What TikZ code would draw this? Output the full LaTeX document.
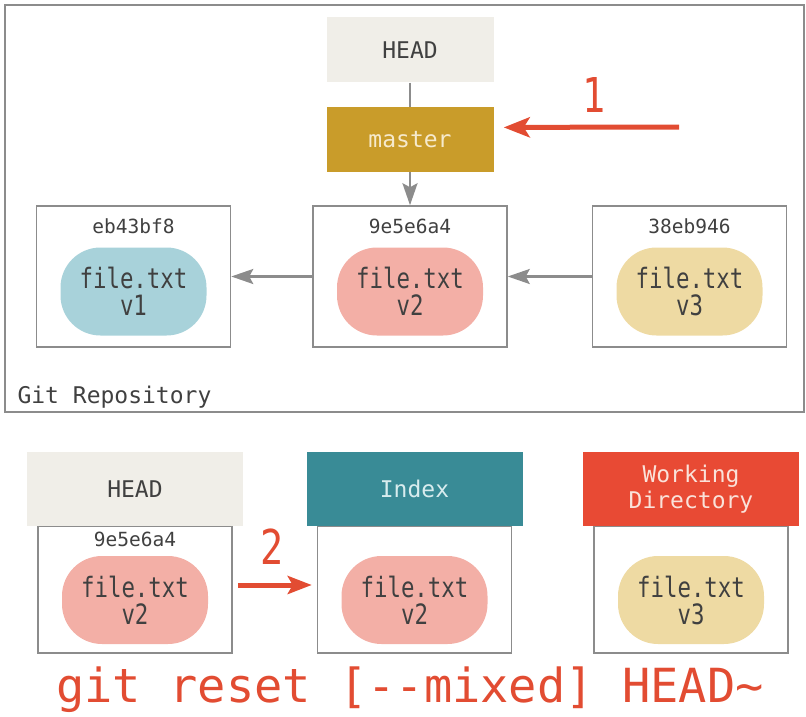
\documentclass[tikz,border=0pt]{standalone}
\usepackage{fontspec}
\setmonofont{DejaVu Sans Mono}
\newfontfamily\blobfont[FakeStretch=0.8]{DejaVu Sans Mono}
\usetikzlibrary{arrows.meta, positioning}
\definecolor{HeadGray}{RGB}{240,238,232}
\definecolor{MasterGold}{RGB}{201,156,42}
\definecolor{MasterText}{RGB}{246,234,205}
\definecolor{BlobBlue}{RGB}{168,210,218}
\definecolor{BlobPink}{RGB}{243,175,166}
\definecolor{BlobSand}{RGB}{238,218,163}
\definecolor{IndexTeal}{RGB}{57,139,150}
\definecolor{IndexText}{RGB}{216,236,238}
\definecolor{WorkRed}{RGB}{232,74,52}
\definecolor{WorkText}{RGB}{250,226,218}
\definecolor{GitRed}{RGB}{226,76,50}
\definecolor{LineGray}{RGB}{140,140,140}
\definecolor{TextGray}{RGB}{64,64,64}

\begin{document}
\begin{tikzpicture}[x=1pt, y=-1pt, font=\ttfamily\fontsize{23}{26}\selectfont, text=TextGray,
  ref/.style={minimum width=167pt, minimum height=65pt, inner sep=0pt, align=center},
  hdr/.style={minimum width=216pt, minimum height=74pt, inner sep=0pt, align=center},
  cbox/.style={draw=LineGray, line width=1.5pt, minimum width=194pt, inner sep=0pt},
  blob/.style={fill=#1, rounded corners=40pt, minimum width=146pt, minimum height=88pt, align=center, inner sep=0pt,
    font=\blobfont\fontsize{28}{27}\selectfont},
  hash/.style={font=\ttfamily\fontsize{19.5}{22}\selectfont},
  num/.style={font=\blobfont\fontsize{48}{50}\selectfont, text=GitRed},
  ar/.style={-{Stealth[length=22pt, width=15pt, inset=4pt]}, line width=2.5pt, LineGray},
  redar/.style={-{Stealth[length=26pt, width=20pt, inset=6pt]}, line width=5pt, GitRed}]
\useasboundingbox (0,0) rectangle (806,717);
% repository
\draw[LineGray, line width=1.5pt] (5,5) rectangle (804,412);
\node[anchor=west] (repo) at (14,397) {Git Repository};
\node[ref, fill=HeadGray] (head) at (410,50) {HEAD};
\node[ref, fill=MasterGold, text=MasterText, below=24pt of head] (master) {master};
\node[cbox, minimum height=141pt] (c2) at (410,276.5) {};
\node[cbox, minimum height=141pt, left=81pt of c2] (c1) {};
\node[cbox, minimum height=141pt, right=84pt of c2] (c3) {};
\node[hash] (h1) at ([yshift=-21pt]c1.north) {eb43bf8};
\node[hash] (h2) at ([yshift=-21pt]c2.north) {9e5e6a4};
\node[hash] (h3) at ([yshift=-21pt]c3.north) {38eb946};
\node[blob=BlobBlue] (b1) at ([yshift=-15pt]c1.center) {file.txt\\v1};
\node[blob=BlobPink] (b2) at ([yshift=-15pt]c2.center) {file.txt\\v2};
\node[blob=BlobSand] (b3) at ([yshift=-15pt]c3.center) {file.txt\\v3};
\draw[LineGray, line width=2.5pt] (head) -- (master);
\draw[ar] (master) -- (c2);
\draw[ar] (c2) -- (c1);
\draw[ar] (c3) -- (c2);
\coordinate (r1) at (679,127);
\draw[redar] (r1) -- ([xshift=10pt, yshift=12pt]master.east);
\node[num] (n1) at (594,95) {1};
% reset --mixed
\node[cbox, minimum height=127pt] (w1) at (135,589.5) {};
\node[cbox, minimum height=127pt, right=84pt of w1] (w2) {};
\node[cbox, minimum height=127pt, right=81pt of w2] (w3) {};
\node[hdr, fill=HeadGray, above=-1pt of w1] (th) {HEAD};
\node[hdr, fill=IndexTeal, text=IndexText, above=-1pt of w2] (ti) {Index};
\node[hdr, fill=WorkRed, text=WorkText, above=-1pt of w3] (tw) {Working\\Directory};
\node[hash] (h4) at ([yshift=-14pt]w1.north) {9e5e6a4};
\node[blob=BlobPink] (b4) at ([yshift=-10.5pt]w1.center) {file.txt\\v2};
\node[blob=BlobPink] (b5) at ([yshift=-10.5pt]w2.center) {file.txt\\v2};
\node[blob=BlobSand] (b6) at ([yshift=-10.5pt]w3.center) {file.txt\\v3};
\draw[redar, -{Stealth[length=24pt, width=18pt, inset=5pt]}] ([xshift=5pt, yshift=4.5pt]w1.east) -- ([xshift=-5pt, yshift=4.5pt]w2.west);
\node[num] (n2) at (272,547) {2};
\node[font=\ttfamily\fontsize{47}{50}\selectfont, text=GitRed, anchor=base] (cmd) at (410,702) {git reset [-{}-mixed] HEAD\textasciitilde};
\end{tikzpicture}
\end{document}
